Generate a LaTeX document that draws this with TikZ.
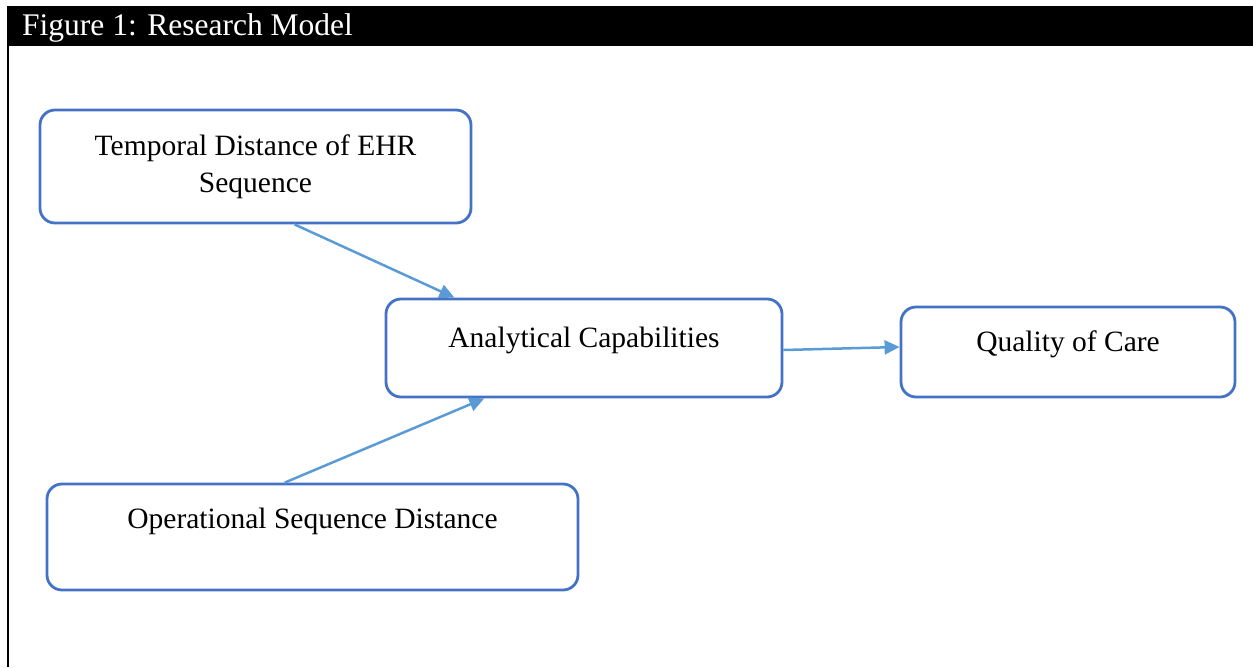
\documentclass[tikz,border=0pt]{standalone}
\usepackage{fontspec}
\setmainfont{Liberation Serif}
\usetikzlibrary{arrows.meta,calc}
\definecolor{boxblue}{HTML}{4472C4}
\definecolor{arrowblue}{HTML}{5B9BD5}
\begin{document}
\begin{tikzpicture}[x=1pt,y=-1pt,
  box/.style={draw=boxblue,line width=2.8pt,rounded corners=15pt,inner sep=0pt,align=center,
    font=\fontsize{29.5}{37}\selectfont},
  lbl/.style={font=\fontsize{29.5}{37}\selectfont,inner sep=0pt,anchor=base},
  conn/.style={draw=arrowblue,line width=2.5pt,-{Triangle[length=15pt,width=14pt]}}]
\useasboundingbox (0,0) rectangle (1253,667);
% header bar and frame
\fill[black] (7,6) rectangle (1253,46);
\draw[line width=2.2pt] (8,46) -- (8,667);
\node[lbl,text=white,anchor=base west,font=\fontsize{31.5}{37}\selectfont] (title) at (22,35) {Figure 1: Research Model};
% boxes
\node[box,minimum width=431pt,minimum height=113pt] (temp) at (255.5,166.5) {Temporal Distance of EHR\\Sequence};
\node[box,minimum width=396pt,minimum height=98pt] (ana) at (584,348) {};
\node[box,minimum width=334pt,minimum height=90pt] (qual) at (1068,352) {};
\node[box,minimum width=531pt,minimum height=106pt] (oper) at (312.5,537) {};
% labels
\node[lbl] (anaT) at (584,347) {Analytical Capabilities};
\node[lbl] (qualT) at (1068,351) {Quality of Care};
\node[lbl] (operT) at (312.5,528) {Operational Sequence Distance};
% connectors
\draw[conn] ($(temp.south west)!0.59!(temp.south east)$) -- ($(ana.north west)!0.175!(ana.north east)$);
\draw[conn] ($(oper.north west)!0.448!(oper.north east)$) -- ($(ana.south west)!0.25!(ana.south east)$);
\draw[conn] ($(ana.east)+(0,2)$) -- ($(qual.west)+(0,-5)$);
\end{tikzpicture}
\end{document}
